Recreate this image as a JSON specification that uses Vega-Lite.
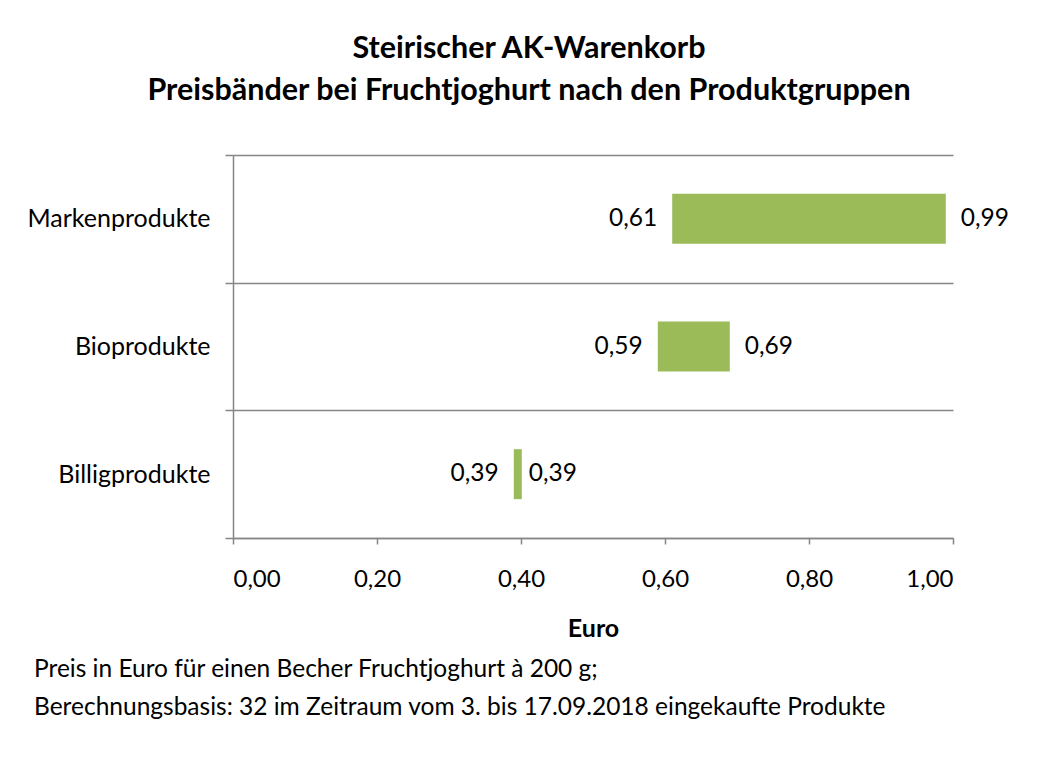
{
  "$schema": "https://vega.github.io/schema/vega-lite/v6.json",
  "background": "white",
  "padding": {"left": 26, "top": 33, "right": 20, "bottom": 10},
  "config": {
    "locale": {"number": {"decimal": ",", "thousands": ".", "grouping": [3], "currency": ["", " €"]}},
    "font": "Lato",
    "view": {"stroke": null}
  },
  "title": {
    "text": ["Steirischer AK-Warenkorb", "Preisbänder bei Fruchtjoghurt nach den Produktgruppen"],
    "fontSize": 30.5,
    "fontWeight": "bold",
    "color": "#000000",
    "lineHeight": 42,
    "anchor": "middle",
    "dx": 11,
    "offset": 37
  },
  "vconcat": [
    {
      "width": 720,
      "height": 383,
      "title": {
        "text": ["Preis in Euro für einen Becher Fruchtjoghurt à 200 g;", "Berechnungsbasis: 32 im Zeitraum vom 3. bis 17.09.2018 eingekaufte Produkte"],
        "orient": "bottom",
        "anchor": "start",
        "frame": "bounds",
        "fontSize": 24.5,
        "fontWeight": "normal",
        "color": "#000000",
        "lineHeight": 38,
        "offset": 17,
        "dx": 7
      },
      "data": {
        "values": [
          {"gruppe": "Markenprodukte", "min": 0.61, "max": 0.99},
          {"gruppe": "Bioprodukte", "min": 0.59, "max": 0.69},
          {"gruppe": "Billigprodukte", "min": 0.39, "max": 0.39}
        ]
      },
      "encoding": {
        "y": {
          "field": "gruppe",
          "type": "nominal",
          "sort": ["Markenprodukte", "Bioprodukte", "Billigprodukte"],
          "scale": {"paddingInner": 0, "paddingOuter": 0},
          "axis": {
            "title": null,
            "tickBand": "extent",
            "grid": true,
            "gridColor": "#868686",
            "gridWidth": 1.5,
            "domainColor": "#868686",
            "domainWidth": 1.5,
            "tickColor": "#868686",
            "tickWidth": 1.5,
            "tickSize": 8,
            "labelFontSize": 25,
            "labelLimit": 400,
            "labelColor": "#000000",
            "labelPadding": 15
          }
        }
      },
      "layer": [
        {
          "mark": {"type": "bar", "size": 50, "color": "#9BBB59"},
          "encoding": {
            "x": {
              "field": "min",
              "type": "quantitative",
              "scale": {"domain": [0, 1], "nice": false},
              "axis": {
                "values": [0, 0.2, 0.4, 0.6, 0.8, 1],
                "format": ".2f",
                "grid": false,
                "domainColor": "#868686",
                "domainWidth": 1.5,
                "tickColor": "#868686",
                "tickWidth": 1.5,
                "tickSize": 6,
                "labelFontSize": 24,
                "labelColor": "#000000",
                "labelPadding": 23,
                "title": "Euro",
                "titleFontSize": 25,
                "titleFontWeight": "bold",
                "titleColor": "#000000",
                "titlePadding": 25
              }
            },
            "x2": {"field": "max"}
          }
        },
        {
          "transform": [{"filter": "datum.min == datum.max"}],
          "mark": {"type": "tick", "thickness": 8, "size": 50, "color": "#9BBB59", "opacity": 1, "xOffset": 4},
          "encoding": {
            "x": {"field": "min", "type": "quantitative"}
          }
        },
        {
          "mark": {"type": "text", "align": "right", "baseline": "middle", "dx": -15, "fontSize": 24.5, "color": "#000000"},
          "encoding": {
            "x": {"field": "min", "type": "quantitative"},
            "text": {"field": "min", "type": "quantitative", "format": ".2f"}
          }
        },
        {
          "mark": {"type": "text", "align": "left", "baseline": "middle", "dx": 15, "fontSize": 24.5, "color": "#000000"},
          "encoding": {
            "x": {"field": "max", "type": "quantitative"},
            "text": {"field": "max", "type": "quantitative", "format": ".2f"}
          }
        }
      ]
    }
  ]
}
